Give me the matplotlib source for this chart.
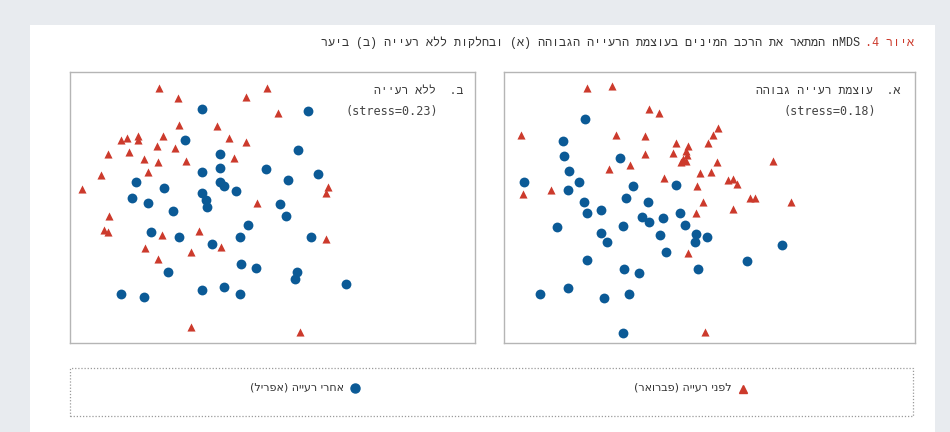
import re
import matplotlib
matplotlib.use("Agg")
import matplotlib.pyplot as plt
from matplotlib.patches import Rectangle

# ---------------- data ----------------
# Panel B (no grazing), coordinates
b_tri_x = [298, 620, 355, 557, 653, 357, 472, 183, 200, 235, 235, 308, 508, 557, 290, 345, 145, 208,
           253, 295, 378, 522, 122, 263, 67, 805, 797, 590, 148, 133, 143, 305, 418, 797, 255, 483,
           393, 295, 393, 720]
b_tri_y = [68, 70, 98, 96, 143, 180, 182, 224, 220, 212, 226, 212, 220, 230, 242, 248, 268, 260,
           283, 290, 288, 280, 330, 320, 373, 366, 385, 413, 453, 495, 500, 510, 497, 522, 548, 545,
           562, 583, 786, 800]
b_cir_x = [427, 743, 375, 481, 715, 425, 480, 617, 773, 684, 229, 481, 491, 311, 425, 527, 216, 264,
           438, 442, 659, 340, 677, 563, 272, 358, 540, 754, 455, 543, 589, 323, 712, 706, 857, 182,
           251, 425, 492, 540]
b_cir_y = [133, 137, 226, 266, 256, 321, 309, 312, 326, 345, 351, 350, 364, 370, 384, 377, 398, 413,
           405, 426, 417, 437, 452, 480, 500, 517, 516, 516, 537, 596, 608, 620, 622, 641, 656, 688,
           696, 675, 667, 688]

# Panel A (high grazing intensity)
a_tri_x = [262, 336, 447, 478, 64, 349, 436, 653, 640, 527, 625, 563, 436, 518, 557, 560, 548, 543,
           557, 818, 390, 327, 650, 633, 600, 493, 683, 700, 710, 590, 70, 152, 750, 765, 872, 610,
           700, 587, 565, 616]
a_tri_y = [70, 64, 133, 143, 209, 209, 213, 190, 209, 233, 233, 243, 268, 263, 258, 270, 283, 290,
           288, 288, 300, 313, 290, 320, 325, 338, 346, 342, 357, 362, 388, 376, 398, 400, 412, 410,
           433, 445, 565, 802]
a_cir_x = [255, 188, 193, 361, 207, 73, 237, 527, 203, 398, 379, 444, 253, 260, 303, 541, 425, 446,
           488, 172, 370, 556, 303, 322, 480, 588, 620, 585, 847, 498, 260, 742, 371, 418, 593, 121,
           205, 313, 386, 370]
a_cir_y = [161, 229, 272, 278, 318, 352, 352, 361, 375, 364, 398, 411, 412, 443, 436, 443, 456, 470,
           458, 485, 483, 480, 505, 532, 510, 506, 517, 530, 540, 561, 585, 588, 612, 625, 613, 686,
           668, 698, 688, 803]

title_red = "איור 4."
title_rest = "nMDS המתאר את הרכב המינים בעוצמת הרעייה הגבוהה (א) ובחלקות ללא רעייה (ב) ביער"
panel_a_label = "א.  עוצמת רעייה גבוהה"
panel_b_label = "ב.  ללא רעייה"
stress_a = "(stress=0.18)"
stress_b = "(stress=0.23)"
legend_before = "לפני רעייה (פברואר)"
legend_after = "אחרי רעייה (אפריל)"

# ---------------- helpers ----------------
def vis(s):
    """Logical RTL string -> visual order for left-to-right rendering."""
    r = s[::-1]
    mirror = {"(": ")", ")": "("}
    r = "".join(mirror.get(c, c) for c in r)
    r = re.sub(r"[A-Za-z0-9]+", lambda m: m.group(0)[::-1], r)
    return r

W, H = 950, 432
BLUE = "#0b5a96"
RED = "#cc3a2c"
TXT = "#333333"
LMONO = ["Liberation Mono", "DejaVu Sans Mono", "DejaVu Sans"]
MONO = ["DejaVu Sans Mono", "Liberation Mono", "DejaVu Sans"]
SANS = ["DejaVu Sans", "Liberation Sans"]

def fx(px):
    return px / W

def fy(py):
    return 1 - py / H

fig = plt.figure(figsize=(9.5, 4.32), dpi=100, facecolor="#e8ebef")

# white card
fig.patches.append(Rectangle((fx(30), 0), fx(935) - fx(30), fy(25), transform=fig.transFigure,
                             facecolor="white", edgecolor="none", zorder=-5))

def panel(x0px, x1px, xl, cx, cy, tx, ty, lab, stress, lab_x, st_x):
    ax = fig.add_axes([fx(x0px), fy(343.3), fx(x1px) - fx(x0px), fy(72.3) - fy(343.3)])
    ax.set_zorder(1)
    ax.scatter(tx, ty, marker="^", s=34, color=RED, linewidths=0, zorder=3)
    ax.scatter(cx, cy, marker="o", s=50, color=BLUE, linewidths=0, zorder=3)
    ax.set_xlim(*xl)
    ax.set_ylim(835, 22)
    ax.set_xticks([])
    ax.set_yticks([])
    for sp in ax.spines.values():
        sp.set_color("#b5b5b5")
        sp.set_linewidth(1.0)
    fig.text(fx(lab_x), fy(91), vis(lab), ha="right", va="center", fontsize=8.2,
             color=TXT, family=LMONO, zorder=5)
    fig.text(fx(st_x), fy(111), stress, ha="right", va="center", fontsize=8.5,
             color="#444444", family=MONO, zorder=5)
    return ax

panel(70, 475, (30, 1245), b_cir_x, b_cir_y, b_tri_x, b_tri_y, panel_b_label, stress_b, 463, 438)
panel(504, 915, (12, 1245), a_cir_x, a_cir_y, a_tri_x, a_tri_y, panel_a_label, stress_a, 900, 876)

# title
fig.canvas.draw()
r = fig.canvas.get_renderer()
t_red = fig.text(fx(914), fy(43), vis(title_red), ha="right", va="center", fontsize=8.5,
                 color=RED, family=LMONO)
bb = t_red.get_window_extent(renderer=r)
fig.text(bb.x0 / W - fx(5), fy(43), vis(title_rest), ha="right", va="center", fontsize=8.5,
         color=TXT, family=LMONO)

# legend box
fig.patches.append(Rectangle((fx(70), fy(416)), fx(913) - fx(70), fy(368) - fy(416),
                             transform=fig.transFigure, facecolor="none", edgecolor="#9a9a9a",
                             linestyle=(0, (1, 1.5)), linewidth=0.9, zorder=2))
fig.lines.append(plt.Line2D([fx(355)], [fy(388)], marker="o", markersize=6.5, color=BLUE,
                            linestyle="none", transform=fig.transFigure))
fig.text(fx(344), fy(388), vis(legend_after), ha="right", va="center", fontsize=8,
         color=TXT, family=SANS)
fig.lines.append(plt.Line2D([fx(743)], [fy(389)], marker="^", markersize=6, color=RED,
                            linestyle="none", transform=fig.transFigure))
fig.text(fx(732), fy(388), vis(legend_before), ha="right", va="center", fontsize=8,
         color=TXT, family=SANS)

fig.savefig("out.png", dpi=100, facecolor=fig.get_facecolor())
